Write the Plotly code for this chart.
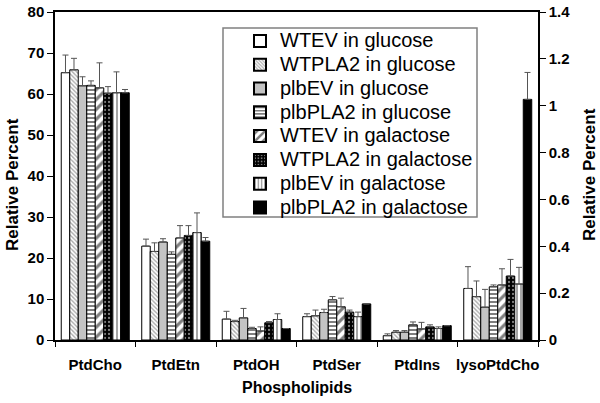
import plotly.graph_objects as go

categories = ["PtdCho", "PtdEtn", "PtdOH", "PtdSer", "PtdIns", "lysoPtdCho"]
series_names = [
    "WTEV in glucose", "WTPLA2 in glucose", "plbEV in glucose", "plbPLA2 in glucose",
    "WTEV in galactose", "WTPLA2 in galactose", "plbEV in galactose", "plbPLA2 in galactose",
]

# left axis values (PtdCho..PtdIns), one list per series
left_values = [
    [65.2, 22.9, 5.1, 5.7, 1.05],
    [65.9, 21.6, 4.5, 5.9, 1.9],
    [62.0, 23.9, 5.4, 6.7, 1.9],
    [62.1, 20.9, 2.8, 9.8, 3.7],
    [61.5, 24.9, 2.2, 8.1, 2.7],
    [60.2, 25.5, 4.2, 6.8, 3.2],
    [60.3, 26.2, 5.0, 5.7, 2.8],
    [60.3, 24.1, 2.8, 8.8, 3.5],
]
left_errors = [
    [4.3, 1.7, 1.9, 0.7, 0.45],
    [2.8, 2.1, 0.3, 1.4, 0.4],
    [2.2, 0.8, 2.3, 0.8, 0.4],
    [1.1, 0.6, 0.3, 0.8, 0.7],
    [6.1, 3.0, 1.0, 2.1, 1.6],
    [1.6, 2.4, 0.3, 0.5, 0.5],
    [5.1, 4.8, 1.4, 1.1, 0.4],
    [0.8, 0.9, 0.0, 0.0, 0.0],
]
# right axis values (lysoPtdCho)
right_values = [0.22, 0.185, 0.14, 0.227, 0.235, 0.273, 0.239, 1.027]
right_errors = [0.093, 0.067, 0.076, 0.008, 0.069, 0.071, 0.071, 0.115]

left_ticks = [0, 10, 20, 30, 40, 50, 60, 70, 80]
right_ticks = [0, 0.2, 0.4, 0.6, 0.8, 1.0, 1.2, 1.4]

y_title = "Relative Percent"
x_title = "Phospholipids"

styles = [
    dict(color="white", pattern=None),
    dict(color="white", pattern=dict(shape="\\", fgcolor="#555555", bgcolor="white", size=3, solidity=0.45)),
    dict(color="#c4c4c4", pattern=None),
    dict(color="white", pattern=dict(shape="-", fgcolor="black", bgcolor="white", size=4, solidity=0.5)),
    dict(color="white", pattern=dict(shape="/", fgcolor="black", bgcolor="white", size=7, solidity=0.45)),
    dict(color="black", pattern=dict(shape=".", fgcolor="white", bgcolor="black", size=4, solidity=0.25)),
    dict(color="white", pattern=dict(shape="|", fgcolor="black", bgcolor="white", size=4, solidity=0.35)),
    dict(color="black", pattern=None),
]

FONT = "Liberation Sans, Arial, sans-serif"
fig = go.Figure()

def make_marker(st):
    marker = dict(color=st["color"], line=dict(color="black", width=1))
    if st["pattern"]:
        marker["pattern"] = st["pattern"]
    return marker

for i, name in enumerate(series_names):
    fig.add_trace(go.Bar(
        x=categories[:5], y=left_values[i],
        name='<span style="font-size:20px">' + name + '</span>',
        marker=make_marker(styles[i]), offsetgroup=str(i), alignmentgroup="a",
        error_y=dict(type="data", array=left_errors[i], arrayminus=[0] * 5, symmetric=False,
                     color="#555555", thickness=1, width=3),
        yaxis="y", showlegend=True,
    ))
for i, name in enumerate(series_names):
    fig.add_trace(go.Bar(
        x=[categories[5]], y=[right_values[i]], name=name,
        marker=make_marker(styles[i]), offsetgroup=str(i), alignmentgroup="a",
        error_y=dict(type="data", array=[right_errors[i]], arrayminus=[0], symmetric=False,
                     color="#555555", thickness=1, width=3),
        yaxis="y2", showlegend=False,
    ))

# legend box frame
fig.add_shape(type="rect", xref="paper", yref="paper",
              x0=(223 - 55) / 483, x1=(477 - 55) / 483,
              y0=(340 - 217) / 328, y1=(340 - 28) / 328,
              line=dict(color="#808080", width=1.5), fillcolor="white", layer="above")

title_font = dict(size=17, family=FONT, color="black", weight="bold")
fig.add_annotation(text=y_title, xref="paper", yref="paper", x=(12 - 55) / 483, y=(340 - 185) / 328,
                   textangle=-90, showarrow=False, font=title_font, xanchor="center", yanchor="middle")
fig.add_annotation(text=y_title, xref="paper", yref="paper", x=(589 - 55) / 483, y=(340 - 175) / 328,
                   textangle=-90, showarrow=False, font=title_font, xanchor="center", yanchor="middle")
fig.add_annotation(text=x_title, xref="paper", yref="paper", x=0.5, y=(340 - 388) / 328,
                   showarrow=False, font=dict(size=16, family=FONT, color="black", weight="bold"),
                   xanchor="center", yanchor="middle")

fig.update_layout(
    width=600, height=403,
    margin=dict(l=55, r=62, t=12, b=63),
    paper_bgcolor="white", plot_bgcolor="white",
    barmode="group", bargap=0.155, bargroupgap=0,
    font=dict(family=FONT, color="black"),
    legend=dict(x=(240 - 55) / 483, xanchor="left", y=(340 - 24) / 328, yanchor="top",
                bgcolor="rgba(0,0,0,0)", borderwidth=0,
                font=dict(size=16, family=FONT, color="black"),
                tracegroupgap=0, itemsizing="constant"),
    xaxis=dict(categoryorder="array", categoryarray=categories, automargin=False,
               showline=True, linecolor="black", linewidth=1.5, mirror=True,
               ticks="outside", tickson="boundaries", ticklen=5, tickcolor="black", tickangle=0,
               ticklabelstandoff=10,
               tickfont=dict(size=15, family=FONT, color="black", weight="bold")),
    yaxis=dict(range=[0, 80], tickvals=left_ticks, showgrid=False, zeroline=False, automargin=False,
               showline=True, linecolor="black", linewidth=1.5,
               ticks="outside", ticklen=6, tickcolor="black",
               tickfont=dict(size=15, family=FONT, color="black", weight="bold")),
    yaxis2=dict(range=[0, 1.4], tickvals=right_ticks, overlaying="y", side="right",
                showgrid=False, zeroline=False, automargin=False,
                showline=True, linecolor="black", linewidth=1.5,
                ticks="outside", ticklen=6, tickcolor="black",
                tickfont=dict(size=15, family=FONT, color="black", weight="bold")),
)

fig.write_html("out.html", config={"displayModeBar": False},
               post_script="document.body.style.margin='0';document.body.style.overflow='hidden';")
